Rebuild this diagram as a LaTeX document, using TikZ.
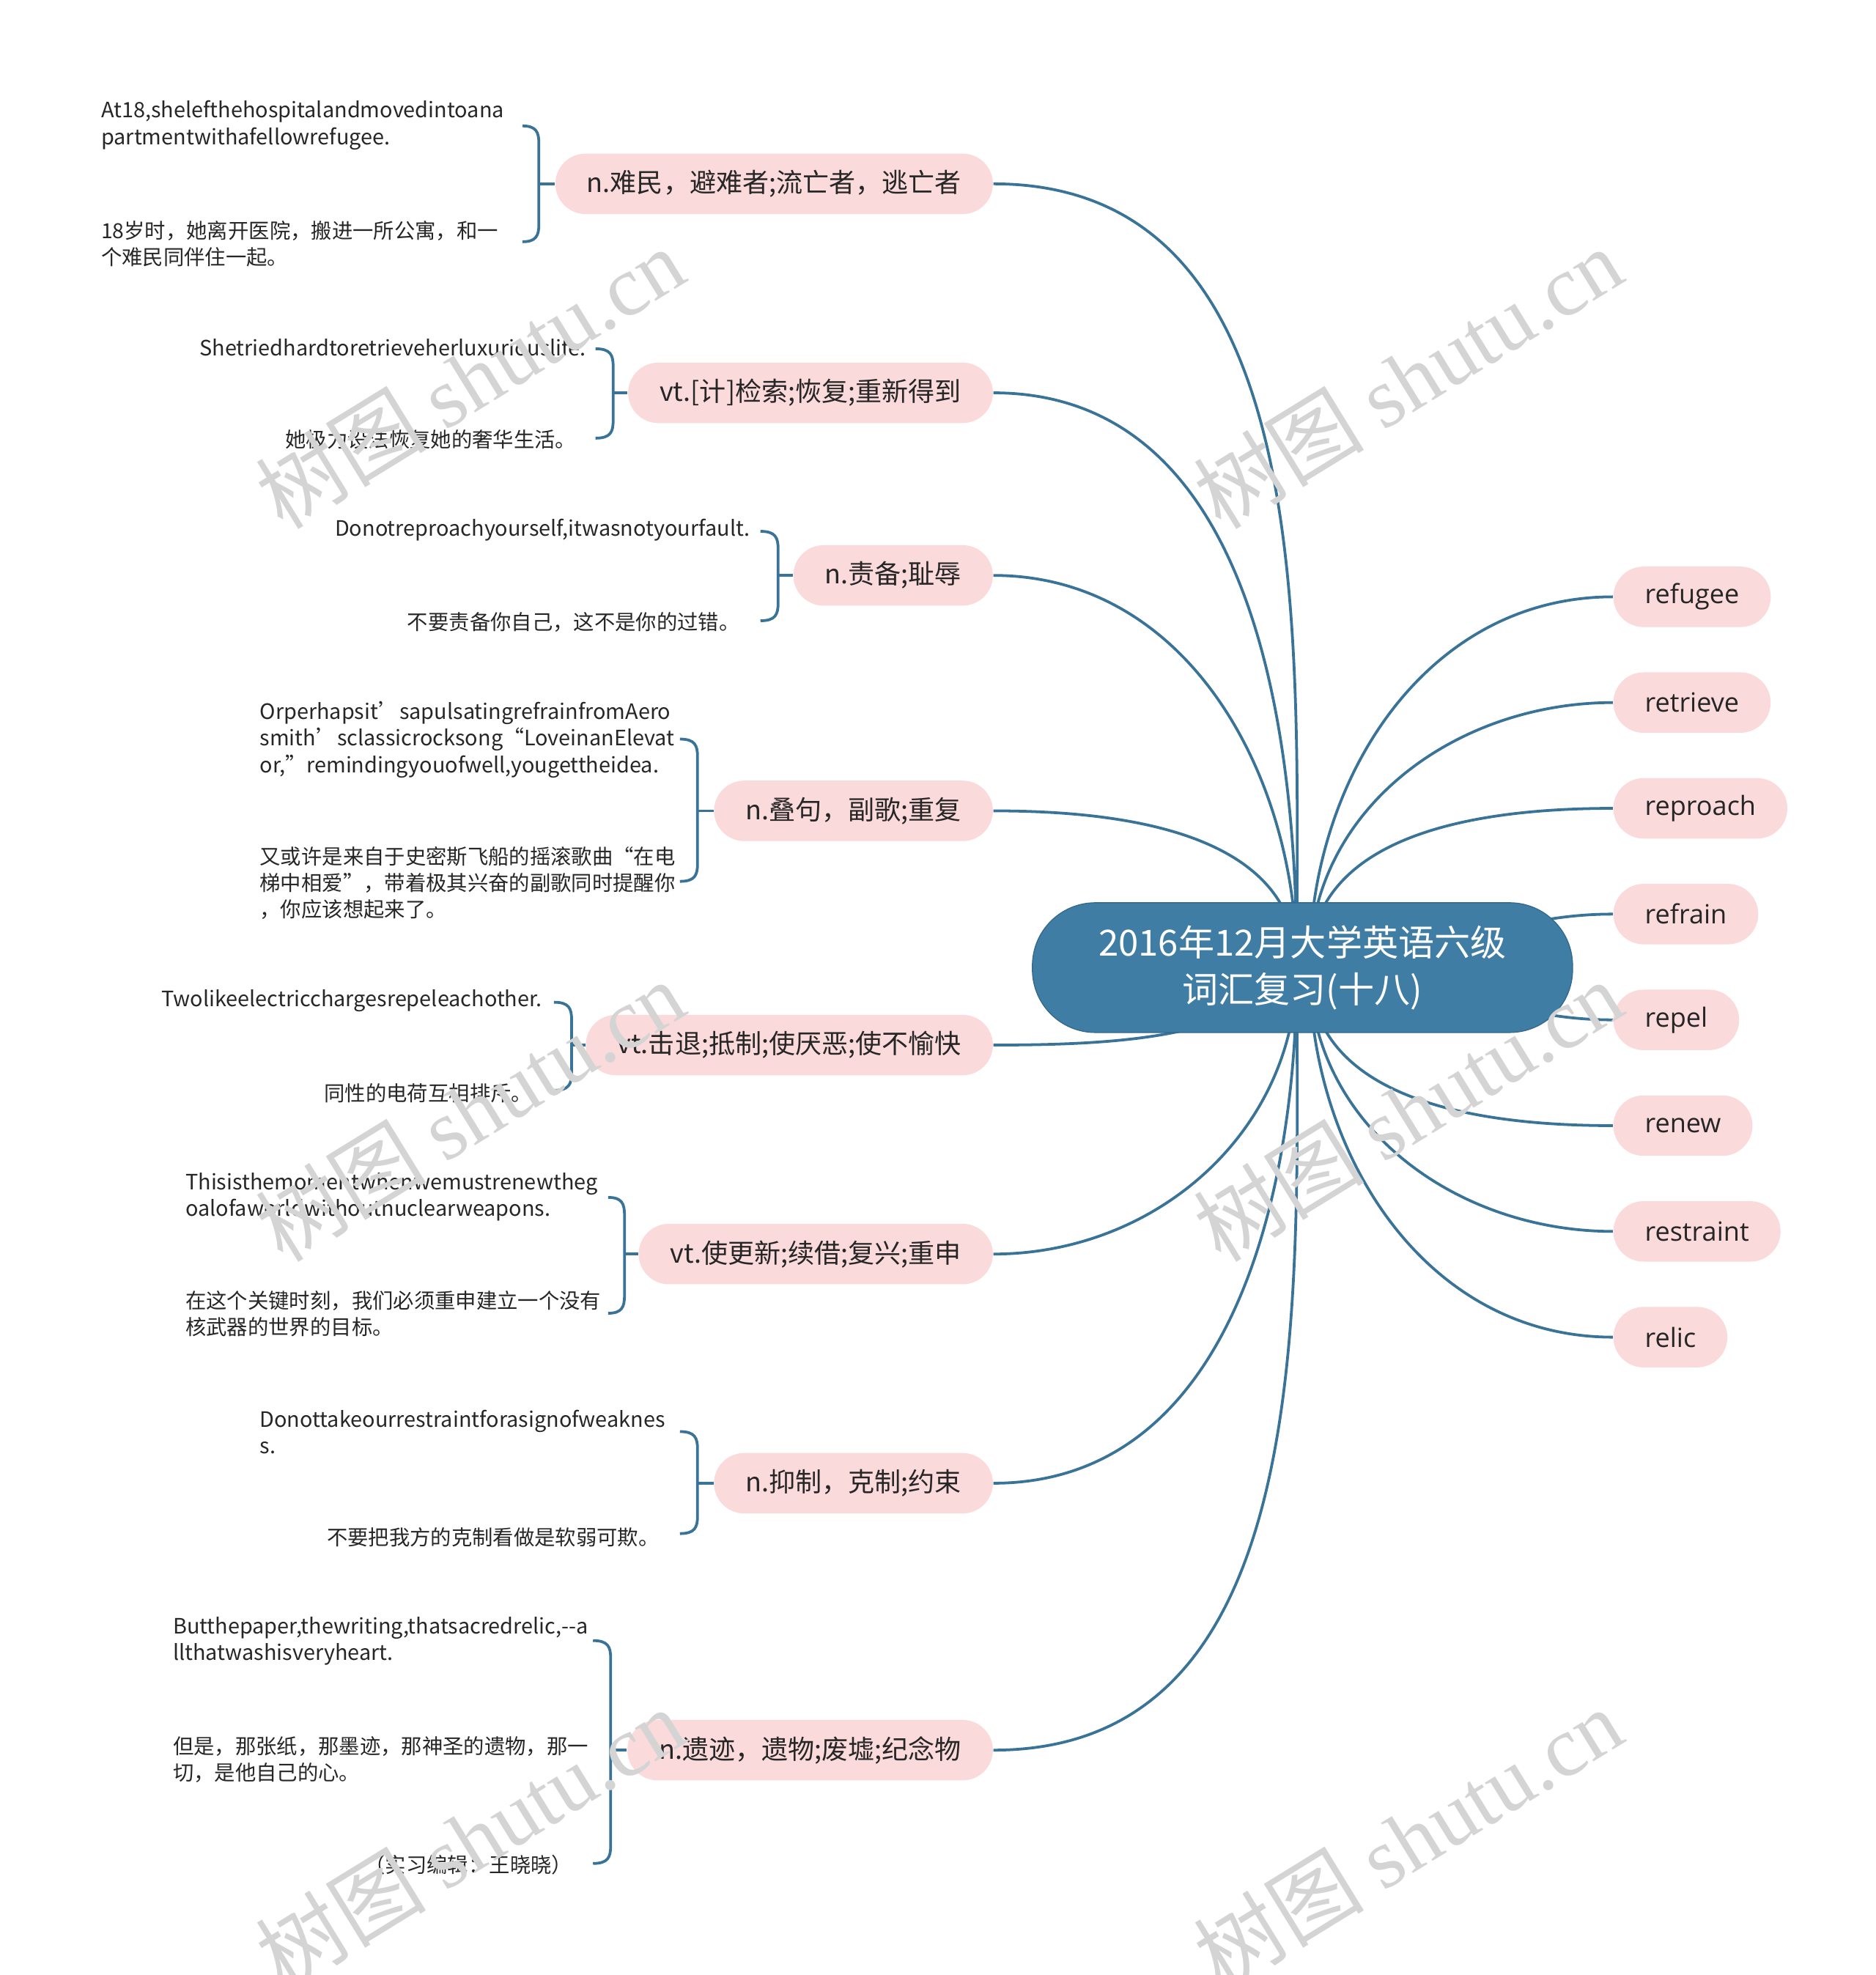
\documentclass[tikz,border=0pt]{standalone}
\usepackage{fontspec}
\newfontfamily\cjk{Noto Sans CJK SC}
\newfontfamily\opensans{Open Sans}
\newfontfamily\wmserif{Liberation Serif}
\setmainfont{Noto Sans CJK SC}
\definecolor{pinkfill}{HTML}{FADADA}
\definecolor{ctrblue}{HTML}{3F7DA5}
\definecolor{linkblue}{HTML}{3A7398}
\definecolor{txt}{HTML}{262626}
\pgfdeclarelayer{bg}
\pgfsetlayers{bg,main}
\newcommand\mybrace[6]{%
  \coordinate (#6-t) at (#1,#3);
  \coordinate (#6-m) at (#2,#5);
  \coordinate (#6-b) at (#1,#4);
  \draw[brk] (#6-t) .. controls (#2-2,#3) and (#2,#3+5) .. (#2,#3+14) -- (#2,#4-14) .. controls (#2,#4-5) and (#2-2,#4) .. (#6-b);
}
\begin{document}
\begin{tikzpicture}[x=0.5pt,y=-0.5pt,
  pill/.style={rounded corners=12pt, fill=pinkfill, minimum height=24pt, inner xsep=12.5pt, inner ysep=0pt, text=txt, font=\cjk\fontsize{10.5}{12}\selectfont},
  rpill/.style={pill, anchor=west, font=\opensans\fontsize{10.5}{12}\selectfont},
  leaf/.style={font=\cjk\fontsize{8.25}{10.5}\selectfont, align=left, inner sep=0pt, text=txt},
  eleaf/.style={leaf, font=\cjk\fontsize{8.4}{10.5}\selectfont},
  link/.style={draw=linkblue, line width=1.1pt},
  brk/.style={draw=linkblue, line width=1.1pt},
  wm/.style={text=black!17, inner sep=0pt, font=\fontsize{34}{38}\selectfont},
]
\useasboundingbox (0,0) rectangle (1490,1568.6);

% center
\node[fill=ctrblue, draw=ctrblue!85!black, line width=0.4pt, text=white, rounded corners=25pt, minimum width=214.5pt, minimum height=51.5pt, inner sep=0pt, align=center, font=\cjk\fontsize{14.3}{18.5}\selectfont] (C) at (1034.5,768.5) {2016年12月大学英语六级\\词汇复习(十八)};
\coordinate (cl) at (1030,768);
\coordinate (cr) at (1040,768);

% left first-level nodes
\node[pill, anchor=east] (L1) at (789,146) {n.难民，避难者;流亡者，逃亡者};
\node[pill, anchor=east] (L2) at (789,312) {vt.[计]检索;恢复;重新得到};
\node[pill, anchor=east] (L3) at (789,457) {n.责备;耻辱};
\node[pill, anchor=east] (L4) at (789,644) {n.叠句，副歌;重复};
\node[pill, anchor=east] (L5) at (789,830) {vt.击退;抵制;使厌恶;使不愉快};
\node[pill, anchor=east] (L6) at (789,996) {vt.使更新;续借;复兴;重申};
\node[pill, anchor=east] (L7) at (789,1178) {n.抑制，克制;约束};
\node[pill, anchor=east] (L8) at (789,1390) {n.遗迹，遗物;废墟;纪念物};

% right nodes
\node[rpill] (R1) at (1281,474) {refugee};
\node[rpill] (R2) at (1281,558) {retrieve};
\node[rpill] (R3) at (1281,642) {reproach};
\node[rpill] (R4) at (1281,726) {refrain};
\node[rpill] (R5) at (1281,810) {repel};
\node[rpill] (R6) at (1281,894) {renew};
\node[rpill] (R7) at (1281,978) {restraint};
\node[rpill] (R8) at (1281,1062) {relic};

\begin{pgfonlayer}{bg}
\draw[link] (L1.east) to[out=0,in=90] (cl);
\draw[link] (L2.east) to[out=0,in=90] (cl);
\draw[link] (L3.east) to[out=0,in=90] (cl);
\draw[link] (L4.east) to[out=0,in=90] (cl);
\draw[link] (L5.east) .. controls (900,830) and (990,822) .. (cl);
\draw[link] (L6.east) to[out=0,in=-90] (cl);
\draw[link] (L7.east) to[out=0,in=-90] (cl);
\draw[link] (L8.east) to[out=0,in=-90] (cl);
\draw[link] (R1.west) to[out=180,in=90] (cr);
\draw[link] (R2.west) to[out=180,in=90] (cr);
\draw[link] (R3.west) to[out=180,in=90] (cr);
\draw[link] (R4.west) to[out=180,in=0] (cr);
\draw[link] (R5.west) to[out=180,in=0] (cr);
\draw[link] (R6.west) to[out=180,in=-90] (cr);
\draw[link] (R7.west) to[out=180,in=-90] (cr);
\draw[link] (R8.west) to[out=180,in=-90] (cr);
\end{pgfonlayer}

% brackets
\mybrace{415}{428}{100}{192}{146}{b1}
\mybrace{473}{487}{277}{348}{312}{b2}
\mybrace{604}{618}{422}{493}{457}{b3}
\mybrace{540}{554}{587}{700}{644}{b4}
\mybrace{440}{454}{796}{866}{830}{b5}
\mybrace{483}{496}{951}{1043}{996}{b6}
\mybrace{540}{554}{1137}{1218}{1178}{b7}
\mybrace{471}{485}{1303}{1480}{1390}{b8}
\draw[brk] (b1-m) -- (L1.west);
\draw[brk] (b2-m) -- (L2.west);
\draw[brk] (b3-m) -- (L3.west);
\draw[brk] (b4-m) -- (L4.west);
\draw[brk] (b5-m) -- (L5.west);
\draw[brk] (b6-m) -- (L6.west);
\draw[brk] (b7-m) -- (L7.west);
\draw[brk] (b8-m) -- (L8.west);

% leaves
\node[eleaf, anchor=west] (e1) at (80,99.5) {At18,shelefthehospitalandmovedintoana\\partmentwithafellowrefugee.};
\node[leaf, anchor=west] (c1) at (80,193.5) {18岁时，她离开医院，搬进一所公寓，和一\\个难民同伴住一起。};
\node[eleaf, anchor=east] (e2) at (466,276) {Shetriedhardtoretrieveherluxuriouslife.};
\node[leaf, anchor=east] (c2) at (458,349) {她极力设法恢复她的奢华生活。};
\node[eleaf, anchor=east] (e3) at (596,421) {Donotreproachyourself,itwasnotyourfault.};
\node[leaf, anchor=east] (c3) at (588,494) {不要责备你自己，这不是你的过错。};
\node[eleaf, anchor=west] (e4) at (206,587.5) {Orperhapsit’sapulsatingrefrainfromAero\\smith’sclassicrocksong“LoveinanElevat\\or,”remindingyouofwell,yougettheidea.};
\node[leaf, anchor=west] (c4) at (206,701.5) {又或许是来自于史密斯飞船的摇滚歌曲“在电\\梯中相爱”，带着极其兴奋的副歌同时提醒你\\，你应该想起来了。};
\node[eleaf, anchor=east] (e5) at (431,795) {Twolikeelectricchargesrepeleachother.};
\node[leaf, anchor=east] (c5) at (423,868) {同性的电荷互相排斥。};
\node[eleaf, anchor=west] (e6) at (147,950.5) {Thisisthemomentwhenwemustrenewtheg\\oalofaworldwithoutnuclearweapons.};
\node[leaf, anchor=west] (c6) at (147,1043.5) {在这个关键时刻，我们必须重申建立一个没有\\核武器的世界的目标。};
\node[eleaf, anchor=west] (e7) at (206,1137.5) {Donottakeourrestraintforasignofweaknes\\s.};
\node[leaf, anchor=east] (c7) at (524,1221) {不要把我方的克制看做是软弱可欺。};
\node[eleaf, anchor=west] (e8) at (137,1303.5) {Butthepaper,thewriting,thatsacredrelic,--a\\llthatwashisveryheart.};
\node[leaf, anchor=west] (c8) at (137,1397.5) {但是，那张纸，那墨迹，那神圣的遗物，那一\\切，是他自己的心。};
\node[leaf, anchor=east] (x8) at (455,1481) {（实习编辑：王晓晓）};

% watermarks
\node[wm, rotate=31.6] (w1) at (373,300) {{\cjk 树图} {\wmserif shutu.cn}};
\node[wm, rotate=31.6] (w2) at (1118,300) {{\cjk 树图} {\wmserif shutu.cn}};
\node[wm, rotate=31.6] (w3) at (373,882) {{\cjk 树图} {\wmserif shutu.cn}};
\node[wm, rotate=31.6] (w4) at (1118,882) {{\cjk 树图} {\wmserif shutu.cn}};
\node[wm, rotate=31.6] (w5) at (373,1460) {{\cjk 树图} {\wmserif shutu.cn}};
\node[wm, rotate=31.6] (w6) at (1118,1460) {{\cjk 树图} {\wmserif shutu.cn}};
\end{tikzpicture}
\end{document}
